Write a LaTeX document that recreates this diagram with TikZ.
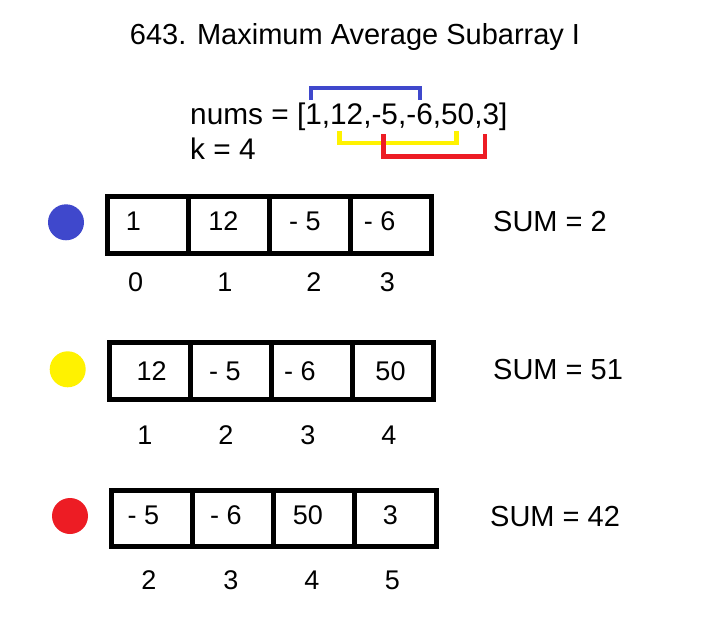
\documentclass[tikz,border=0pt]{standalone}
\usepackage{fontspec}
\setmainfont{Liberation Sans}
\definecolor{pblue}{HTML}{3F48CC}
\definecolor{pyellow}{HTML}{FFF200}
\definecolor{pred}{HTML}{ED1C24}
\begin{document}
\begin{tikzpicture}[x=1pt,y=-1pt,
  big/.style={inner sep=0pt,anchor=base west,font=\fontsize{29}{34}\selectfont},
  cell/.style={inner sep=0pt,anchor=base,font=\fontsize{27}{32}\selectfont},
  boxline/.style={line width=5pt},
  brk/.style={line width=4.5pt}]
\fill[white] (0,0) rectangle (728,620);
\useasboundingbox (0,0) rectangle (728,620);
% title
\node[big,anchor=base] (title) at (355,45) {643. Maximum Average Subarray I};
\node[big,font=\fontsize{29.8}{34}\selectfont] (nums) at (190,125) {nums = [1,12,-5,-6,50,3]};
\node[big,font=\fontsize{29.8}{34}\selectfont] (k) at (190,160) {k = 4};
% brackets
\coordinate (b1) at (311,100); \coordinate (b2) at (420,100);
\draw[brk,pblue] (b1) -- (311,88) -- (420,88) -- (b2);
\coordinate (y1) at (339.5,131.5); \coordinate (y2) at (456.5,131.5);
\draw[brk,pyellow] (y1) -- (339.5,143) -- (456.5,143) -- (y2);
\coordinate (r1) at (383.5,134.5); \coordinate (r2) at (485,134.5);
\draw[brk,pred] (r1) -- (383.5,156.5) -- (485,156.5) -- (r2);
% row 1
\fill[pblue] (66,222.3) circle (18);
\draw[boxline] (107.5,196.5) rectangle (431.5,253.5);
\draw[boxline] (188.5,196.5) -- (188.5,253.5) (269.5,196.5) -- (269.5,253.5) (350.5,196.5) -- (350.5,253.5);
\node[cell] (a10) at (133.3,230.7) {1};
\node[cell] (a11) at (223.3,230.7) {12};
\node[cell] (a12) at (305,230.7) {- 5};
\node[cell] (a13) at (379.7,230.7) {- 6};
\node[cell] (i10) at (135.7,291) {0};
\node[cell] (i11) at (225,291) {1};
\node[cell] (i12) at (314,291) {2};
\node[cell] (i13) at (387.5,291) {3};
\node[big] (s1) at (493,231.5) {SUM = 2};
% row 2
\fill[pyellow] (67.7,369.3) circle (18);
\draw[boxline] (109,342.5) rectangle (433.5,399);
\draw[boxline] (190.5,342.5) -- (190.5,399) (271.5,342.5) -- (271.5,399) (352.5,342.5) -- (352.5,399);
\node[cell] (a20) at (151.7,380) {12};
\node[cell] (a21) at (225,380) {- 5};
\node[cell] (a22) at (300,380) {- 6};
\node[cell] (a23) at (390.5,380) {50};
\node[cell] (i20) at (145,444) {1};
\node[cell] (i21) at (225.8,444) {2};
\node[cell] (i22) at (308,444) {3};
\node[cell] (i23) at (389,444) {4};
\node[big] (s2) at (493,379) {SUM = 51};
% row 3
\fill[pred] (70,516) circle (18);
\draw[boxline] (111.5,490) rectangle (436,546.5);
\draw[boxline] (192.5,490) -- (192.5,546.5) (273.5,490) -- (273.5,546.5) (354.5,490) -- (354.5,546.5);
\node[cell] (a30) at (143.5,524) {- 5};
\node[cell] (a31) at (225.8,524) {- 6};
\node[cell] (a32) at (308,524) {50};
\node[cell] (a33) at (390.3,524) {3};
\node[cell] (i30) at (149,589) {2};
\node[cell] (i31) at (230.8,589) {3};
\node[cell] (i32) at (312,589) {4};
\node[cell] (i33) at (392.5,589) {5};
\node[big] (s3) at (490,526) {SUM = 42};
\end{tikzpicture}
\end{document}
